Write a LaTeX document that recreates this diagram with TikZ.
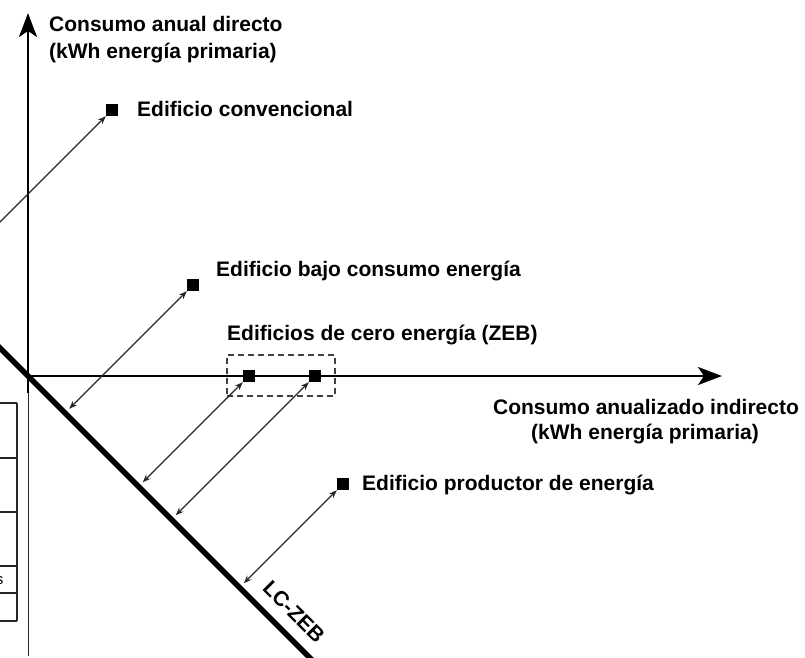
\documentclass[tikz,border=0pt]{standalone}
\usepackage{fontspec}
\setmainfont{Liberation Sans}
\usetikzlibrary{arrows.meta,calc}
\begin{document}
\begin{tikzpicture}[x=1pt,y=-1pt,
  lbl/.style={font=\bfseries\fontsize{21}{27}\selectfont, inner sep=0pt},
  sq/.style={rectangle, fill=black, minimum size=12pt, inner sep=0pt},
  axisline/.style={line width=2.6pt, -{Stealth[length=24pt,width=18pt,inset=6pt]}},
  dimline/.style={line width=1.1pt, black!85,
     {Stealth[length=8pt,width=6pt]}-{Stealth[length=8pt,width=6pt]}, shorten >=6pt},
  thinline/.style={line width=1.2pt, black!85},
  zebline/.style={line width=5.5pt},
  zebbox/.style={draw=black!75, line width=1.2pt, dash pattern=on 6pt off 4pt,
     minimum width=108pt, minimum height=41pt, inner sep=0pt}
]
\useasboundingbox (0,0) rectangle (805,657);
\begin{scope}
\clip (0,0) rectangle (805,657);
% origin and LC-ZEB line
\coordinate (O) at (28,376);
\coordinate (Dup) at (-120,228);
\coordinate (Ddn) at (330,678);
\draw[zebline] (Dup) -- (Ddn);
% axes
\coordinate (Ytip) at (28,13);
\coordinate (Ybot) at (28,393);
\coordinate (Xtip) at (722,376);
\draw[axisline] (Ybot) -- (Ytip);
\draw[axisline] (O) -- (Xtip);
% thin frame line continuing down
\coordinate (Vtop) at (28.5,393);
\coordinate (Vbot) at (28.5,656);
\draw[thinline] (Vtop) -- (Vbot);
% partial table on the left
\coordinate (Ttr) at (17,403);
\coordinate (Tbr) at (17,621);
\draw[thinline] (Ttr) -- (Tbr);
\foreach \yy in {403,458,512,566,593,621}
  \draw[thinline] (-2,\yy) -- (17,\yy);
\node[font=\fontsize{15}{18}\selectfont, anchor=base east, inner sep=0pt] (tabs) at (3.5,584) {s};
% squares
\node[sq] (s1) at (112,110) {};
\node[sq] (s2) at (193,285) {};
\node[sq] (z1) at (249,376) {};
\node[sq] (z2) at (315,376) {};
\node[sq] (s5) at (343,484) {};
% dashed ZEB box
\node[zebbox] (zb) at (281,375.5) {};
% feet on the LC-ZEB line
\coordinate (f1) at ($(Dup)!(s1)!(Ddn)$);
\coordinate (f2) at ($(Dup)!(s2)!(Ddn)$);
\coordinate (f3) at ($(Dup)!(z1)!(Ddn)$);
\coordinate (f4) at ($(Dup)!(z2)!(Ddn)$);
\coordinate (f5) at ($(Dup)!(s5)!(Ddn)$);
\draw[dimline] (s1) -- (f1);
\draw[dimline] (s2) -- (f2);
\draw[dimline] (z1) -- (f3);
\draw[dimline] (z2) -- (f4);
\draw[dimline] (s5) -- (f5);
% labels
\node[lbl, anchor=base west] (ya1) at (49,31) {Consumo anual directo};
\node[lbl, anchor=base west] (ya2) at (49,58.5) {(kWh energía primaria)};
\node[lbl, anchor=base west] (t1) at (137,116) {Edificio convencional};
\node[lbl, anchor=base west] (t2) at (216,276) {Edificio bajo consumo energía};
\node[lbl, anchor=base west] (t3) at (227,340) {Edificios de cero energía (ZEB)};
\node[lbl, anchor=base west] (t5) at (362,490) {Edificio productor de energía};
\node[lbl, anchor=base] (xa1) at (646,414) {Consumo anualizado indirecto};
\node[lbl, anchor=base] (xa2) at (645,439) {(kWh energía primaria)};
\node[lbl, rotate=-45] (lc) at (294,612) {LC-ZEB};
\end{scope}
\end{tikzpicture}
\end{document}
